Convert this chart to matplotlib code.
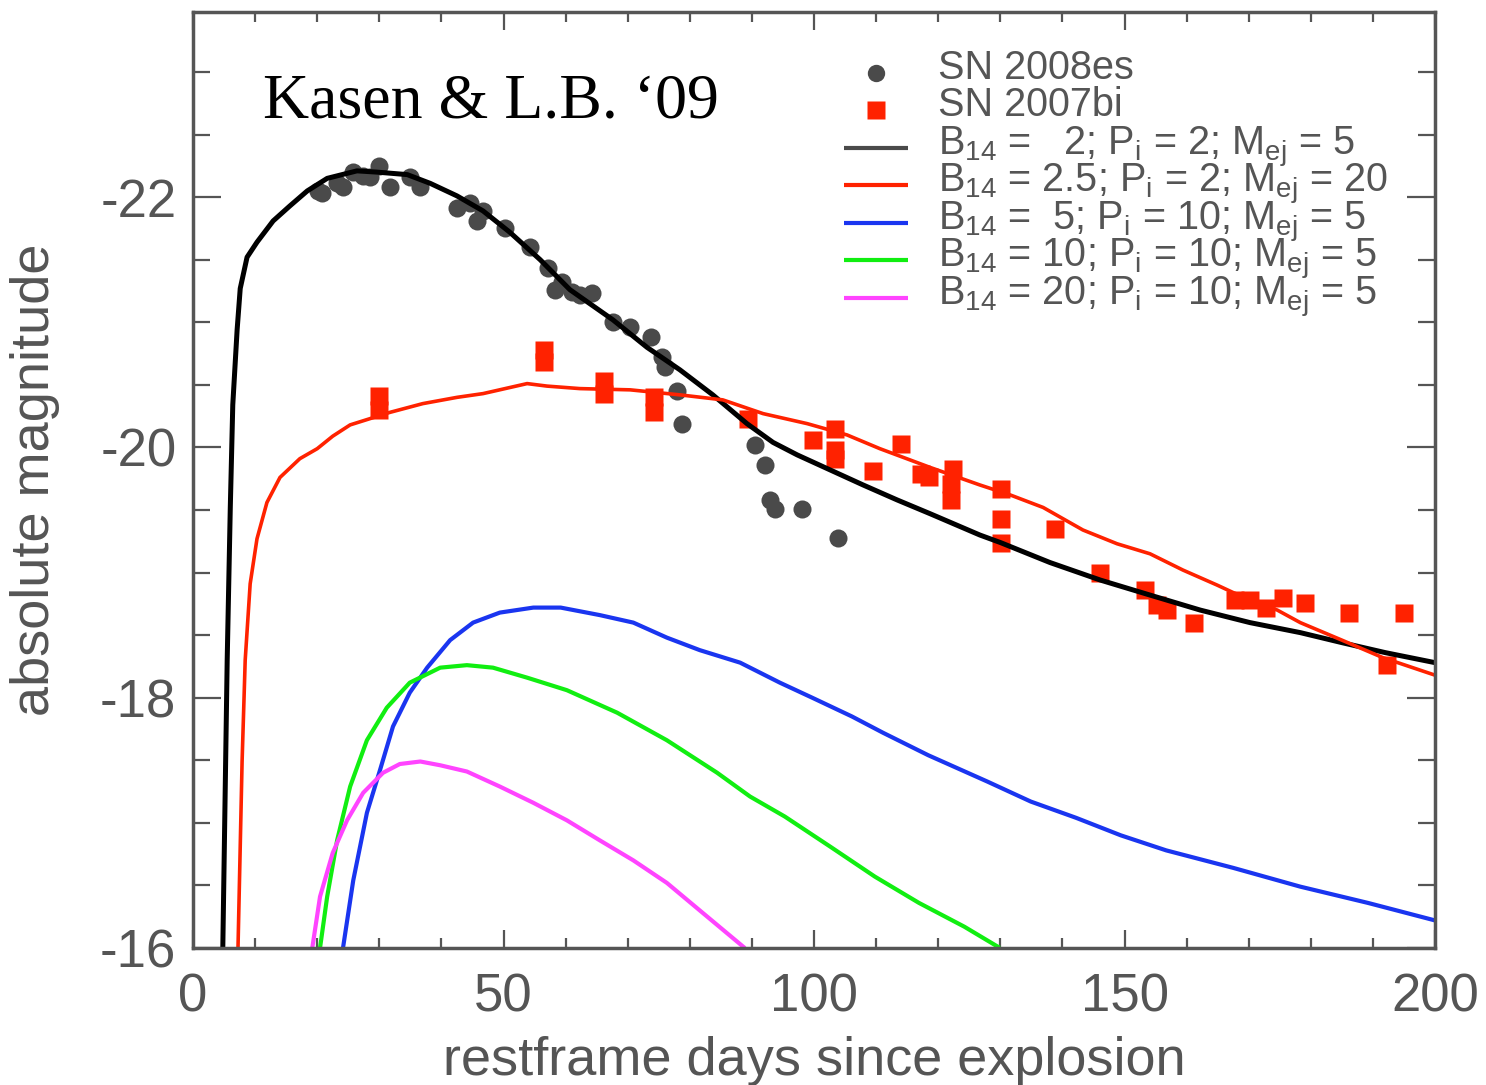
import numpy as np
import matplotlib
matplotlib.use('Agg')
import matplotlib.pyplot as plt

plt.rcParams['font.family'] = ['Liberation Sans', 'DejaVu Sans']
plt.rcParams['mathtext.fontset'] = 'custom'
plt.rcParams['mathtext.rm'] = 'Liberation Sans'
plt.rcParams['axes.unicode_minus'] = False

# SN 2008es (gray dots)
es_day = [20.1, 20.8, 23.2, 24.2, 25.8, 27.4, 28.5, 30.0, 31.7, 34.9, 36.6,
          42.5, 44.6, 45.7, 46.7, 50.2, 54.3, 57.2, 58.3, 59.4, 61.0, 62.3,
          64.3, 67.6, 70.4, 73.8, 75.5, 76.0, 77.9, 78.7, 90.5, 92.1, 92.9,
          93.7, 98.1, 103.9]
es_mag = [-22.05, -22.03, -22.11, -22.08, -22.20, -22.17, -22.16, -22.25,
          -22.08, -22.16, -22.08, -21.91, -21.95, -21.81, -21.89, -21.75,
          -21.60, -21.43, -21.26, -21.32, -21.24, -21.22, -21.23, -21.00,
          -20.96, -20.88, -20.72, -20.64, -20.45, -20.19, -20.02, -19.86,
          -19.58, -19.51, -19.51, -19.28]

# SN 2007bi (red squares)
bi_day = [30.0, 30.0, 56.5, 56.5, 66.2, 66.2, 74.2, 74.2, 89.4, 99.8, 103.4,
          103.4, 103.4, 109.5, 114.0, 117.2, 118.5, 122.4, 122.1, 122.1, 130.1,
          130.1, 130.1, 138.8, 146.1, 153.3, 155.2, 156.8, 161.2, 167.8, 170.2,
          172.8, 175.5, 179.1, 186.2, 192.3, 195.0]
bi_mag = [-20.41, -20.30, -20.78, -20.68, -20.53, -20.43, -20.40, -20.28,
          -20.23, -20.06, -20.15, -19.98, -19.91, -19.81, -20.03, -19.79,
          -19.76, -19.83, -19.71, -19.58, -19.67, -19.43, -19.24, -19.35,
          -19.00, -18.86, -18.74, -18.70, -18.60, -18.78, -18.78, -18.72,
          -18.80, -18.76, -18.68, -18.26, -18.68]

# model: B14=2, P=2, M=5 (black)
m1_day = [4.8, 5.5, 6.0, 6.4, 7.1, 7.6, 8.7, 10.3, 12.9, 15.6, 18.4, 21.6,
          26.4, 29.6, 34.5, 38.2, 42.5, 46.7, 51.0, 55.9, 60.7, 67.6, 73.1,
          78.4, 83.7, 89.2, 93.4, 97.3, 102.6, 107.9, 113.4, 118.7, 126.7,
          130.0, 138.0, 146.1, 154.1, 162.2, 170.2, 178.3, 185.0, 192.0, 200.0]
m1_mag = [-16.02, -18.30, -19.52, -20.34, -20.94, -21.27, -21.52, -21.64,
          -21.81, -21.93, -22.05, -22.15, -22.21, -22.20, -22.18, -22.11,
          -22.01, -21.89, -21.72, -21.50, -21.26, -21.02, -20.80, -20.62,
          -20.42, -20.19, -20.04, -19.94, -19.82, -19.70, -19.58, -19.47,
          -19.30, -19.24, -19.08, -18.94, -18.82, -18.70, -18.60, -18.52,
          -18.44, -18.36, -18.28]

# model: B14=2.5, P=2, M=20 (red)
m2_day = [7.25, 7.9, 8.4, 9.2, 10.3, 11.9, 14.0, 17.2, 20.0, 22.5, 25.3,
          31.7, 37.0, 42.5, 46.7, 53.8, 57.0, 62.3, 70.4, 78.4, 85.3, 91.8,
          98.9, 105.3, 110.6, 118.7, 126.7, 131.6, 136.9, 143.3, 148.8, 154.1,
          159.4, 164.9, 167.5, 174.6, 178.3, 185.0, 191.6, 200.0]
m2_mag = [-16.02, -17.49, -18.30, -18.91, -19.27, -19.56, -19.76, -19.91,
          -19.99, -20.09, -20.18, -20.28, -20.35, -20.40, -20.43, -20.51,
          -20.49, -20.47, -20.46, -20.42, -20.38, -20.27, -20.19, -20.10,
          -19.99, -19.84, -19.70, -19.62, -19.52, -19.34, -19.23, -19.15,
          -19.02, -18.90, -18.84, -18.70, -18.60, -18.46, -18.32, -18.18]

# model: B14=5, P=10, M=5 (blue)
m3_day = [24.15, 25.8, 28.0, 30.1, 32.2, 34.9, 37.7, 41.4, 45.1, 49.4, 54.8,
          59.2, 65.5, 70.9, 76.3, 81.6, 88.1, 94.5, 99.7, 106.1, 111.1, 118.4,
          127.9, 134.9, 142.2, 149.4, 156.7, 167.5, 178.3, 189.2, 200.0]
m3_mag = [-16.0, -16.54, -17.08, -17.42, -17.77, -18.04, -18.24, -18.46,
          -18.60, -18.68, -18.72, -18.72, -18.66, -18.60, -18.48, -18.38,
          -18.28, -18.12, -18.00, -17.85, -17.72, -17.54, -17.33, -17.17,
          -17.04, -16.90, -16.78, -16.64, -16.49, -16.36, -16.22]

# model: B14=10, P=10, M=5 (green)
m4_day = [20.45, 21.6, 23.2, 25.3, 28.0, 31.2, 34.9, 39.8, 44.1, 48.3, 53.8,
          60.2, 68.3, 76.3, 84.4, 89.7, 95.3, 102.6, 109.8, 116.9, 124.2, 129.6]
m4_mag = [-16.0, -16.41, -16.86, -17.29, -17.66, -17.92, -18.12, -18.24,
          -18.26, -18.24, -18.16, -18.06, -17.88, -17.66, -17.40, -17.21,
          -17.05, -16.81, -16.57, -16.36, -16.17, -16.01]

# model: B14=20, P=10, M=5 (magenta)
m5_day = [19.2, 20.45, 22.5, 24.8, 27.4, 30.6, 33.3, 36.6, 39.8, 44.1, 49.4,
          54.8, 60.2, 65.5, 70.9, 76.3, 81.6, 88.6]
m5_mag = [-16.0, -16.41, -16.76, -17.02, -17.24, -17.40, -17.47, -17.49,
          -17.46, -17.41, -17.29, -17.16, -17.02, -16.86, -16.70, -16.52,
          -16.30, -16.01]

labels = ['SN 2008es', 'SN 2007bi',
          r'B$_\mathregular{14}$ =   2; P$_\mathregular{i}$ = 2; M$_\mathregular{ej}$ = 5',
          r'B$_\mathregular{14}$ = 2.5; P$_\mathregular{i}$ = 2; M$_\mathregular{ej}$ = 20',
          r'B$_\mathregular{14}$ =  5; P$_\mathregular{i}$ = 10; M$_\mathregular{ej}$ = 5',
          r'B$_\mathregular{14}$ = 10; P$_\mathregular{i}$ = 10; M$_\mathregular{ej}$ = 5',
          r'B$_\mathregular{14}$ = 20; P$_\mathregular{i}$ = 10; M$_\mathregular{ej}$ = 5']

gray = '#555555'
dot_c = '#4a4a4a'
red = '#ff2200'
line_styles = [('black', 3.6), (red, 2.6), ('#1a35f0', 3), ('#11ee11', 3), ('#ff44ff', 3)]

fig = plt.figure(figsize=(14.86, 10.85), dpi=100)
ax = fig.add_axes([0.1299, 0.1263, 0.8358, 0.8627])

ax.plot(es_day, es_mag, 'o', color=dot_c, ms=13, mec='none')
ax.plot(bi_day, bi_mag, 's', color=red, ms=13, mec='none')
models = [(m1_day, m1_mag), (m2_day, m2_mag), (m3_day, m3_mag),
          (m4_day, m4_mag), (m5_day, m5_mag)]
for (d, m), (c, lw) in zip(models, line_styles):
    ax.plot(d, m, color=c, lw=lw)

ax.set_xlim(0, 200)
ax.set_ylim(-16, -23.48)
ax.set_xticks([0, 50, 100, 150, 200])
ax.set_xticks(np.arange(0, 201, 10), minor=True)
ax.set_yticks([-16, -18, -20, -22])
ax.set_yticks(np.arange(-23, -15.9, 0.5), minor=True)

for s in ax.spines.values():
    s.set_color(gray)
    s.set_linewidth(2.5)
ax.tick_params(which='both', direction='in', top=True, right=True, colors=gray,
               labelcolor=gray, width=1.6)
ax.tick_params(axis='x', which='major', length=13, labelsize=38, pad=18)
ax.tick_params(axis='x', which='minor', length=7)
ax.tick_params(axis='y', which='major', length=20, labelsize=38, pad=12)
ax.tick_params(axis='y', which='minor', length=12)

ax.set_xlabel('restframe days since explosion', fontsize=39, color=gray)
ax.set_ylabel('absolute magnitude', fontsize=39, color=gray)
ax.xaxis.set_label_coords(0.5, -0.094)
ax.yaxis.set_label_coords(-0.107, 0.5)

ax.text(0.056, 0.887, 'Kasen & L.B. \u201809', transform=ax.transAxes,
        family=['Liberation Serif', 'DejaVu Serif'], fontsize=46,
        color='black', va='baseline', ha='left')

# legend, laid out row by row in axes fractions
lx0, lx1, ltx = 0.5241, 0.5757, 0.5998
row_top = 0.9284   # baseline of first row
row_step = 0.0401
for i, lab in enumerate(labels):
    yb = row_top - i * row_step
    yh = yb + 0.0068
    if i == 0:
        ax.plot([(lx0 + lx1) / 2], [yh], 'o', color=dot_c, ms=12.5, mec='none',
                transform=ax.transAxes, clip_on=False)
    elif i == 1:
        ax.plot([(lx0 + lx1) / 2], [yh], 's', color=red, ms=13, mec='none',
                transform=ax.transAxes, clip_on=False)
    else:
        c, lw = line_styles[i - 2]
        if c == 'black':
            c = dot_c
        ax.plot([lx0, lx1], [yh, yh], color=c, lw=3, solid_capstyle='butt',
                transform=ax.transAxes, clip_on=False)
    ax.text(ltx, yb, lab, transform=ax.transAxes, fontsize=28.5, color=gray,
            va='baseline', ha='left')

fig.savefig('out.png', dpi=100)
